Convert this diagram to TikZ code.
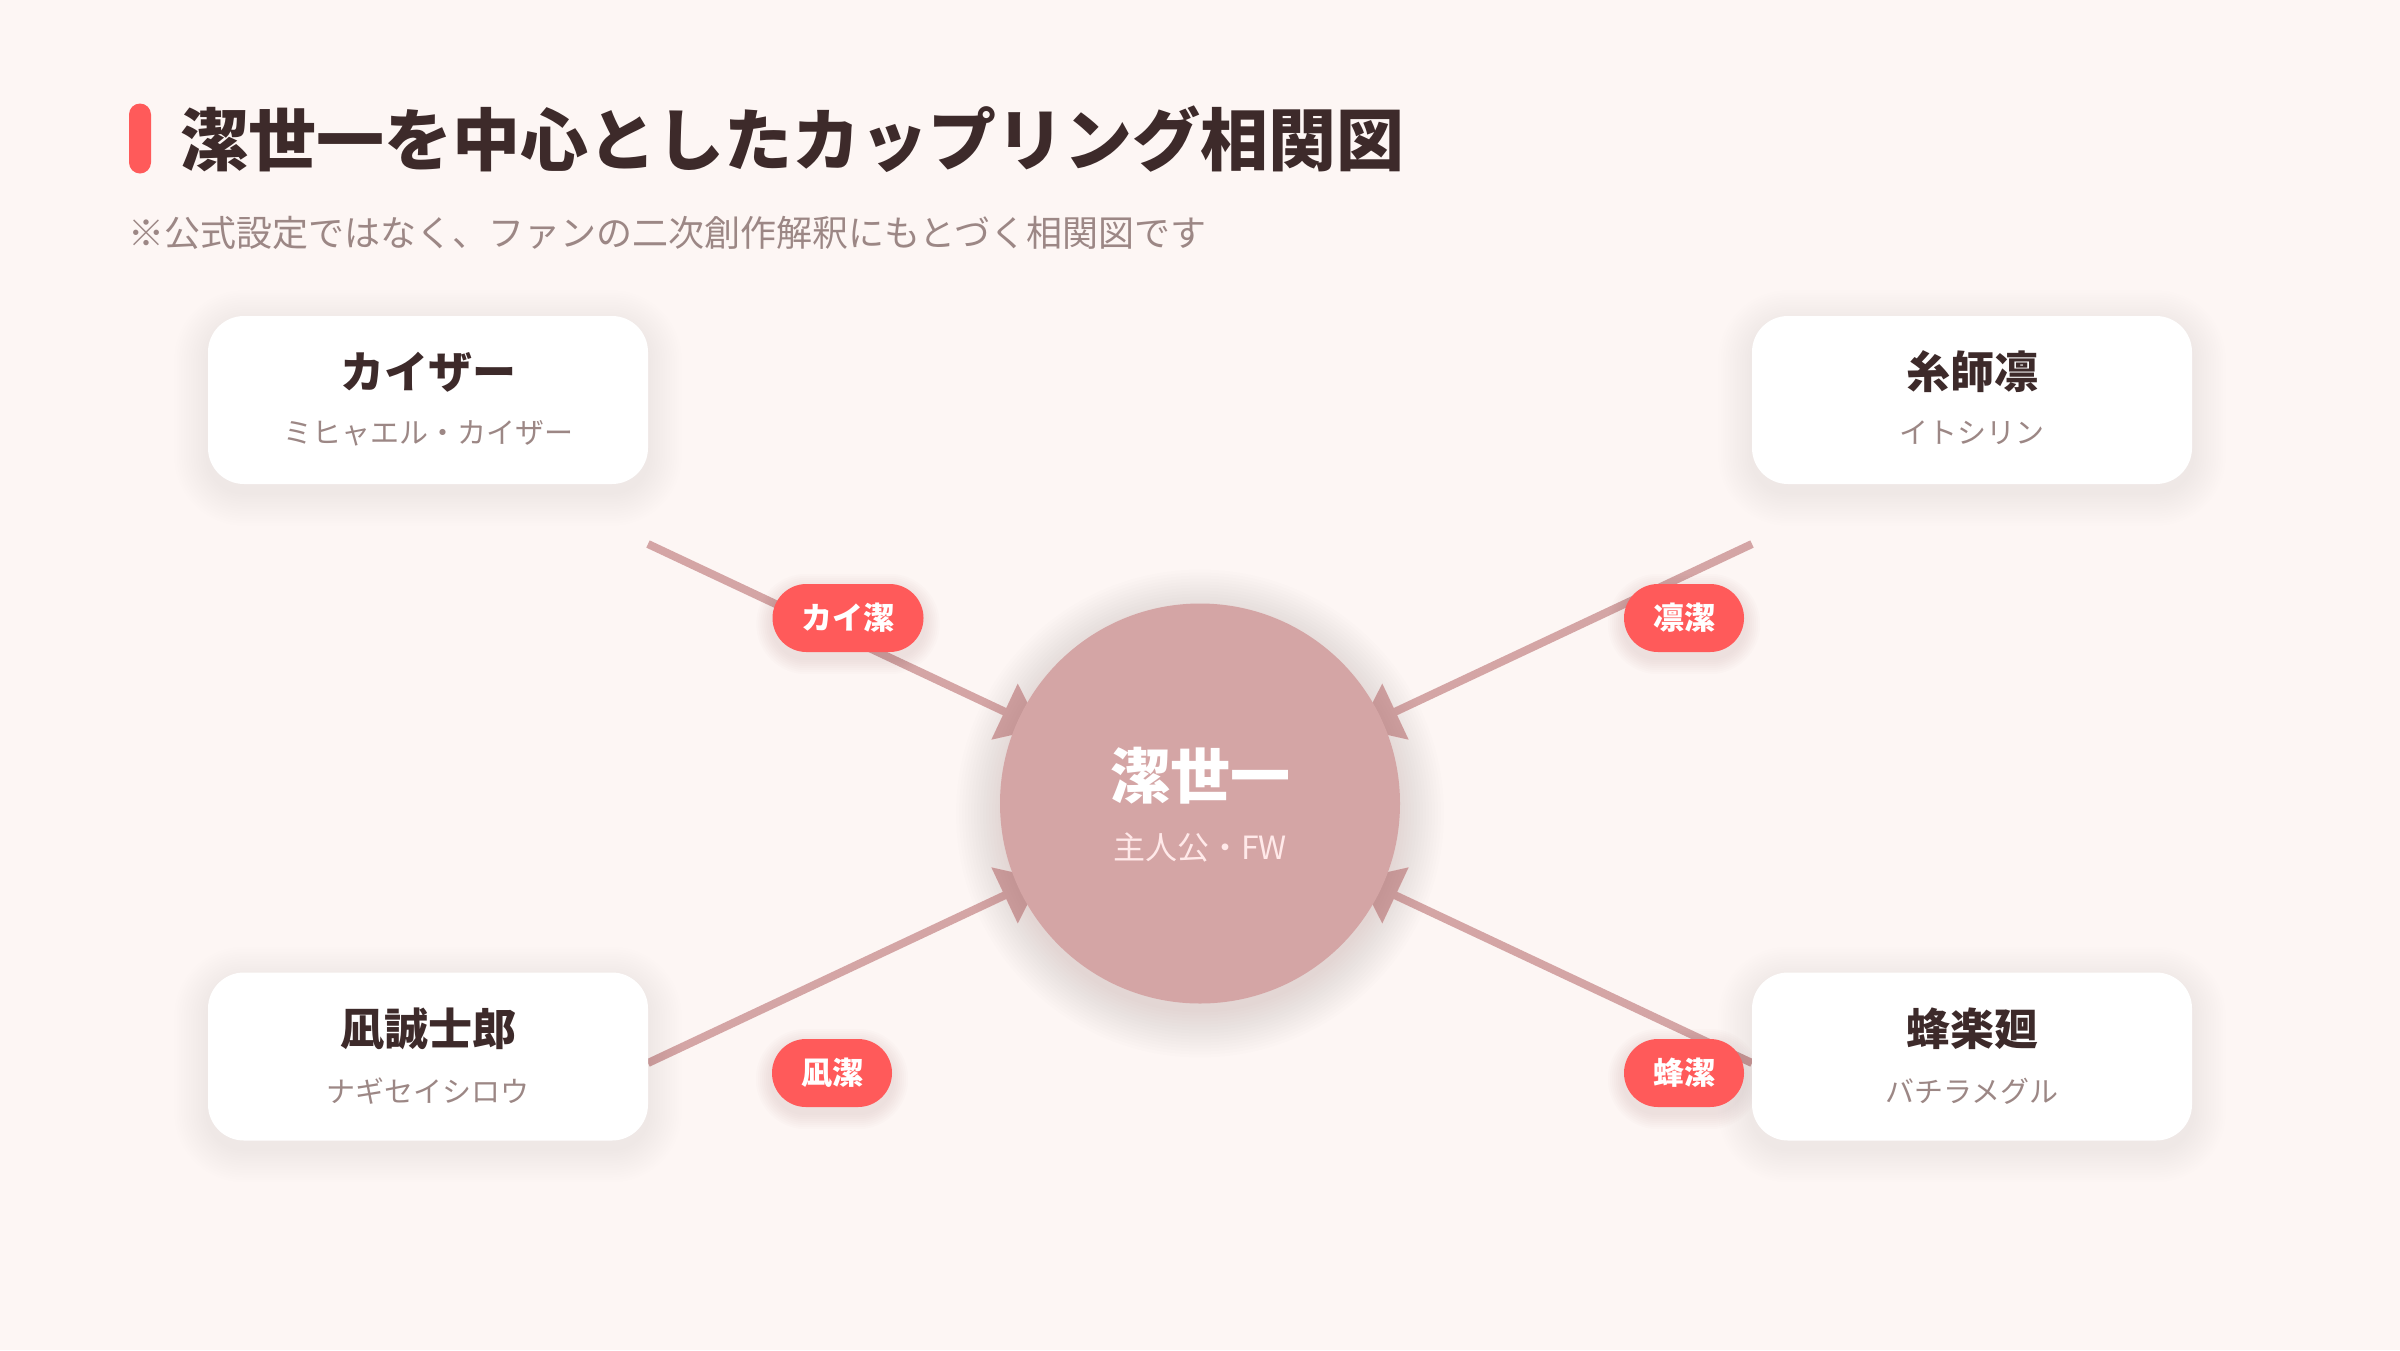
\documentclass[tikz,border=0pt]{standalone}
\usepackage{fontspec}
\setmainfont{Noto Sans CJK JP}
\usetikzlibrary{arrows.meta}
\definecolor{bgc}{HTML}{FDF6F4}
\definecolor{titlec}{HTML}{3D2A2A}
\definecolor{subc}{HTML}{9C8785}
\definecolor{accent}{HTML}{FF5A5A}
\definecolor{rose}{HTML}{D4A5A5}
\definecolor{hubsub}{HTML}{FFE9E9}
\definecolor{shadowc}{HTML}{6B3A3A}
\pgfdeclarelayer{bgl}
\pgfdeclarelayer{back}
\pgfdeclarelayer{shade}
\pgfsetlayers{bgl,back,shade,main}
% soft shadow of a rounded box node: #1 node, #2 corner radius, #3 steps, #4 step size, #5 y offset, #6 opacity per step
\newcommand\boxshade[6]{%
  \foreach \k in {1,...,#3}{%
    \pgfmathsetmacro\dd{\k*#4}%
    \pgfmathsetmacro\rr{#2+\k*#4}%
    \fill[shadowc, opacity=#6, rounded corners=\rr pt]
      ([shift={(-\dd,-\dd+#5)}]#1.north west) rectangle ([shift={(\dd,\dd+#5)}]#1.south east);
  }%
}
\newcommand\circshade[6]{%
  \foreach \k in {1,...,#3}{%
    \pgfmathsetmacro\rr{#2+\k*#4}%
    \fill[shadowc, opacity=#6] ([yshift=-#5pt]#1.center) circle (\rr);
  }%
}
\begin{document}
\begin{tikzpicture}[x=1pt,y=-1pt,
  card/.style={fill=white, rounded corners=36pt, minimum width=440pt, minimum height=168pt, inner sep=0pt},
  nm/.style={inner sep=0pt, text=titlec, font=\fontsize{44}{50}\selectfont\bfseries},
  sb/.style={inner sep=0pt, text=subc, font=\fontsize{29}{34}\selectfont},
  hub/.style={circle, fill=rose, minimum size=400pt, inner sep=0pt},
  pill/.style={fill=accent, text=white, rounded corners=34pt, minimum height=68pt, inner xsep=29pt, inner ysep=0pt,
    font=\fontsize{31}{36}\selectfont\bfseries},
  edge/.style={draw=rose, line width=8pt, shorten >=176pt, -{Triangle[length=40pt,width=60pt]}},
]
\begin{pgfonlayer}{bgl}
\fill[bgc] (0,0) rectangle (2400,1350);
\end{pgfonlayer}
\useasboundingbox (0,0) rectangle (2400,1350);

% title
\node[fill=accent, rounded corners=11pt, minimum width=22pt, minimum height=70pt, inner sep=0pt] (bar) at (140,138.5) {};
\node[anchor=west, inner sep=0pt, text=titlec, font=\fontsize{68}{80}\selectfont\bfseries] (title) at (180,139.5) {潔世一を中心としたカップリング相関図};
\node[anchor=west, inner sep=0pt, text=subc, font=\fontsize{36}{42}\selectfont] (subtitle) at (128,233) {※公式設定ではなく、ファンの二次創作解釈にもとづく相関図です};

% hub
\node[hub] (isagi) at (1200,803.5) {};
\node[inner sep=0pt, text=white, font=\fontsize{60}{68}\selectfont\bfseries] (isagiN) at ([yshift=27.5pt]isagi.center) {潔世一};
\node[inner sep=0pt, text=hubsub, font=\fontsize{32}{38}\selectfont] (isagiS) at ([yshift=-43.5pt]isagi.center) {主人公・FW};

% cards
\node[card] (kaiser) at (428,400) {};
\node[nm] (kaiserN) at ([yshift=28pt]kaiser.center) {カイザー};
\node[sb] (kaiserS) at ([yshift=-33pt]kaiser.center) {ミヒャエル・カイザー};

\node[card] (rin) at (1972,400) {};
\node[nm] (rinN) at ([yshift=28pt]rin.center) {糸師凛};
\node[sb] (rinS) at ([yshift=-33pt]rin.center) {イトシリン};

\node[card] (nagi) at (428,1056.5) {};
\node[nm] (nagiN) at ([yshift=28pt]nagi.center) {凪誠士郎};
\node[sb] (nagiS) at ([yshift=-35pt]nagi.center) {ナギセイシロウ};

\node[card] (bachira) at (1972,1056.5) {};
\node[nm] (bachiraN) at ([yshift=28pt]bachira.center) {蜂楽廻};
\node[sb] (bachiraS) at ([yshift=-35pt]bachira.center) {バチラメグル};

% labels
\node[pill] (kaiP) at (848,618) {カイ潔};
\node[pill] (rinP) at (1684,618) {凛潔};
\node[pill] (nagiP) at (832,1073) {凪潔};
\node[pill] (bachiraP) at (1684,1073) {蜂潔};

% connector start points
\coordinate (kS) at (648,544);
\coordinate (rS) at (1752,544);
\coordinate (nS) at (648,1063);
\coordinate (bS) at (1752,1063);

\begin{pgfonlayer}{back}
\draw[edge] (kS) -- (isagi.center);
\draw[edge] (rS) -- (isagi.center);
\draw[edge] (nS) -- (isagi.center);
\draw[edge] (bS) -- (isagi.center);
\end{pgfonlayer}

\begin{pgfonlayer}{shade}
\boxshade{kaiser}{36}{14}{2.4}{8}{0.005}
\boxshade{rin}{36}{14}{2.4}{8}{0.005}
\boxshade{nagi}{36}{14}{2.4}{8}{0.005}
\boxshade{bachira}{36}{14}{2.4}{8}{0.005}
\circshade{isagi}{196}{16}{3}{10}{0.007}
\boxshade{kaiP}{34}{8}{2}{6}{0.010}
\boxshade{rinP}{34}{8}{2}{6}{0.010}
\boxshade{nagiP}{34}{8}{2}{6}{0.010}
\boxshade{bachiraP}{34}{8}{2}{6}{0.010}
\end{pgfonlayer}
\end{tikzpicture}
\end{document}
